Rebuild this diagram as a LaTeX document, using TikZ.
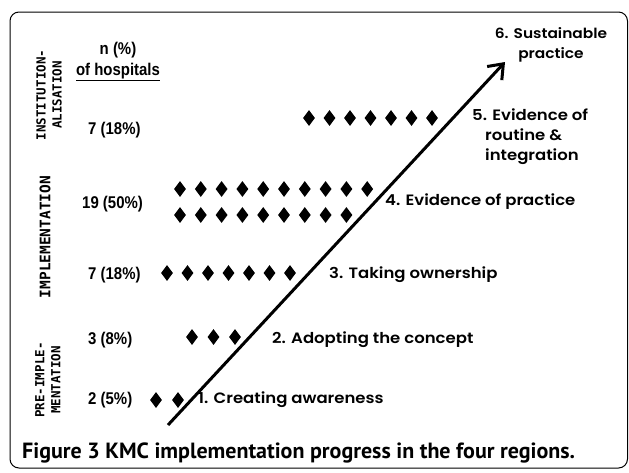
\documentclass[tikz,border=0pt]{standalone}
\usepackage{fontspec}
\usetikzlibrary{shapes.geometric,arrows.meta}
\newfontfamily\sharefont{Liberation Sans}[FakeStretch=0.88]
\newfontfamily\phasefont{DejaVu Sans Mono}
\newfontfamily\stepfont{Poppins}[FakeStretch=1.1,BoldFont={* SemiBold}]
\newfontfamily\capfont{PT Sans}

\tikzset{
  hosp/.style={diamond,fill=black,inner sep=0pt,minimum width=12pt,minimum height=16pt},
  share/.style={font=\sharefont\bfseries\fontsize{17}{17}\selectfont,inner sep=0pt,anchor=west},
  phasetext/.style={font=\phasefont\bfseries\fontsize{12.5}{16}\selectfont,rotate=90,align=center,inner sep=0pt},
  steplabel/.style={font=\stepfont\bfseries\fontsize{15}{20}\selectfont,inner sep=0pt,anchor=west,align=left},
}

\begin{document}
\begin{tikzpicture}[x=1pt,y=-1pt]
    \useasboundingbox (0,0) rectangle (629,472);
    \draw[line width=1pt,rounded corners=9pt] (10,12) rectangle (627.5,468);

    % phases
    \node[phasetext] (inst) at (49,95) {INSTITUTION-\\ALISATION};
    \node[phasetext,font=\phasefont\bfseries\fontsize{14.5}{16}\selectfont] (impl) at (45,237) {IMPLEMENTATION};
    \node[phasetext] (pre) at (48,380) {PRE-IMPLE-\\MENTATION};

    % number of hospitals
    \node[share,anchor=center] (nper) at (118,50) {n (\%)};
    \node[share,anchor=center] (ofhosp) at (118,72) {\underline{of hospitals}};
    \node[share] (n5) at (88,130) {7 (18\%)};
    \node[share] (n4) at (82,204) {19 (50\%)};
    \node[share] (n3) at (88,275) {7 (18\%)};
    \node[share] (n2) at (88,340) {3 (8\%)};
    \node[share] (n1) at (88,400) {2 (5\%)};

    \foreach \i in {1,...,7}
      \node[hosp] (h5-\i) at ({309+20.5*(\i-1)},118) {};
    \foreach \i in {1,...,10}
      \node[hosp] (h4a-\i) at ({180+20.8*(\i-1)},189) {};
    \foreach \i in {1,...,9}
      \node[hosp] (h4b-\i) at ({180+20.8*(\i-1)},215) {};
    \foreach \i in {1,...,7}
      \node[hosp] (h3-\i) at ({167+20.5*(\i-1)},273) {};
    \foreach \i in {1,...,3}
      \node[hosp] (h2-\i) at ({192+21.5*(\i-1)},337) {};
    \foreach \i in {1,2}
      \node[hosp] (h1-\i) at ({156+22*(\i-1)},400) {};

    % progress arrow
    \coordinate (start) at (168,425);
    \coordinate (tip) at (505,62);
    \draw[line width=3pt,-{Straight Barb[length=13pt,width=20pt]}] (start) -- (tip);

    \node[steplabel] (s1) at (198,400) {1. Creating awareness};
    \node[steplabel] (s2) at (272,340) {2. Adopting the concept};
    \node[steplabel] (s3) at (329,275) {3. Taking ownership};
    \node[steplabel] (s4) at (385,202) {4. Evidence of practice};
    \node[steplabel] (s5) at (472,137) {5. Evidence of\\\hspace*{13pt}routine \&\\\hspace*{13pt}integration};
    \node[steplabel,anchor=center,align=center,font=\stepfont\bfseries\fontsize{14}{20}\selectfont] (s6) at (551,45) {6. Sustainable\\practice};

    \node[anchor=west,inner sep=0pt,font=\capfont\bfseries\fontsize{22}{22}\selectfont] (caption) at (22,453) {Figure 3 KMC implementation progress in the four regions.};
\end{tikzpicture}
\end{document}
